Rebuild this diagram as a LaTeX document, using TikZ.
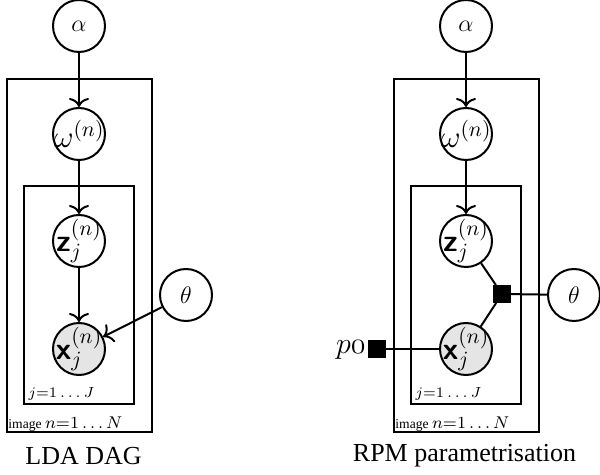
\RequirePackage{fix-cm}
\documentclass[tikz,border=0pt]{standalone}
\usepackage{fontspec}
\setmainfont{Liberation Serif}
\usetikzlibrary{arrows.meta}
\newcommand{\bsfv}[1]{\mbox{\sffamily\bfseries #1}}
\begin{document}
\begin{tikzpicture}[x=0.5pt,y=-0.5pt,
  every node/.style={inner sep=0pt},
  latent/.style={circle,draw,line width=1pt,minimum size=26pt,fill=white},
  obs/.style={latent,fill=gray!20},
  fac/.style={rectangle,draw,fill=black,line width=1pt,minimum size=8pt},
  plate/.style={draw,line width=1pt},
  edge/.style={line width=1pt},
  dir/.style={edge,-{Computer Modern Rightarrow[length=4.5pt,width=10pt]}},
  bigmath/.style={font=\fontsize{15.5}{18}\selectfont},
  hypmath/.style={font=\fontsize{12}{14}\selectfont},
  jlab/.style={anchor=base west,font=\fontsize{7.3}{9}\selectfont},
  nlab/.style={anchor=base west,font=\fontsize{6.8}{8}\selectfont},
  caption/.style={font=\fontsize{13}{15}\selectfont}]
\useasboundingbox (0,0) rectangle (600,475);

% ---------------- LDA DAG ----------------
\draw[plate] (7,79) rectangle (152,432);
\draw[plate] (24,186) rectangle (134,404);
\node[latent,label={[hypmath]center:$\alpha$}] (a1) at (79,26) {};
\node[latent,label={[bigmath]center:$\omega^{(n)}$}] (w1) at (79,134) {};
\node[latent,label={[bigmath]center:$\bsfv{z}_j^{(n)}$}] (z1) at (79,241) {};
\node[obs,label={[bigmath]center:$\bsfv{x}_j^{(n)}$}] (x1) at (79,349) {};
\node[latent,label={[hypmath]center:$\theta$}] (t1) at (186,295) {};
\node[jlab] (j1) at (28,398) {$j{=}1\ldots J$};
\node[nlab] (n1) at (8,429) {image {\fontsize{8.5}{10}\selectfont$n{=}1\ldots N$}};
\node[caption] (c1) at (83.5,456) {LDA DAG};

\draw[dir] (a1) -- (w1);
\draw[dir] (w1) -- (z1);
\draw[dir] (z1) -- (x1);
\draw[dir] (t1) -- (x1);

% ------------- RPM parametrisation -------------
\draw[plate] (394,79) rectangle (539,432);
\draw[plate] (411,186) rectangle (521,404);
\node[latent,label={[hypmath]center:$\alpha$}] (a2) at (466,26) {};
\node[latent,label={[bigmath]center:$\omega^{(n)}$}] (w2) at (466,134) {};
\node[latent,label={[bigmath]center:$\bsfv{z}_j^{(n)}$}] (z2) at (466,241) {};
\node[obs,label={[bigmath]center:$\bsfv{x}_j^{(n)}$}] (x2) at (466,349) {};
\node[latent,label={[hypmath]center:$\theta$}] (t2) at (574,295) {};
\node[fac] (f2) at (502,294) {};
\node[fac] (p0f) at (377,349) {};
\node[font=\fontsize{15}{18}\selectfont,anchor=base east] (p0) at (366,354) {$p\mathnormal{0}$};
\node[jlab] (j2) at (415,398) {$j{=}1\ldots J$};
\node[nlab] (n2) at (395,429) {image {\fontsize{8.5}{10}\selectfont$n{=}1\ldots N$}};
\node[caption] (c2) at (464.5,456) {RPM parametrisation};

\draw[dir] (a2) -- (w2);
\draw[dir] (w2) -- (z2);
\draw[edge] (z2) -- (f2);
\draw[edge] (f2) -- (x2);
\draw[edge] (f2) -- (t2);
\draw[edge] (p0f) -- (x2);
\end{tikzpicture}
\end{document}
